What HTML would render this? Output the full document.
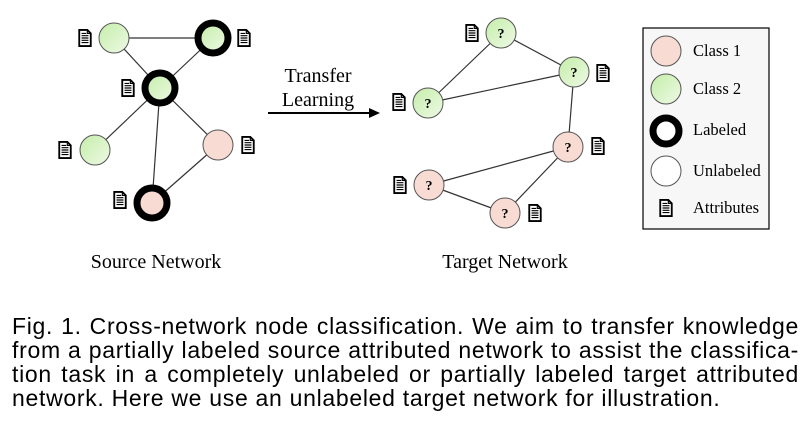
<!DOCTYPE html>
<html><head><meta charset="utf-8"><style>
body{margin:0;width:809px;height:432px;background:#fff;overflow:hidden;position:relative}
svg{position:absolute;left:0;top:0}
.cap{position:absolute;left:12px;top:314px;width:787px;font-family:"Liberation Sans",sans-serif;font-size:23px;letter-spacing:0.7px;line-height:24px;color:#000}
.cap div{text-align:justify;text-align-last:justify;white-space:nowrap}
.cap div.last{text-align-last:left}
</style></head><body>
<svg width="809" height="432" viewBox="0 0 809 432" font-family="Liberation Serif, serif">
<defs>
<linearGradient id="g" x1="0" y1="0" x2="1" y2="1"><stop offset="0" stop-color="#c4eea8"/><stop offset="1" stop-color="#eef9e6"/></linearGradient>
<g id="doc" transform="scale(1.15)"><path d="M-5,-7 H2 L5,-4 V7 H-5 Z" fill="#fff" stroke="#000" stroke-width="1.6"/><path d="M2,-7 V-4 H5" fill="none" stroke="#000" stroke-width="1"/><path d="M-3,-2H3M-3,0H3M-3,2H3M-3,4H3M-3,-4H1" stroke="#000" stroke-width="1"/></g>
</defs>
<g stroke="#333" stroke-width="1.2">
<line x1="114" y1="38" x2="213" y2="38"/><line x1="114" y1="38" x2="160" y2="88"/><line x1="213" y1="38" x2="160" y2="88"/>
<line x1="160" y1="88" x2="95" y2="150"/><line x1="160" y1="88" x2="218" y2="145"/><line x1="160" y1="88" x2="152" y2="203"/><line x1="218" y1="145" x2="152" y2="203"/>
<line x1="501" y1="33" x2="428" y2="103"/><line x1="501" y1="33" x2="574" y2="72"/><line x1="428" y1="103" x2="574" y2="72"/><line x1="574" y1="72" x2="568" y2="147"/>
<line x1="568" y1="147" x2="429" y2="185"/><line x1="568" y1="147" x2="505" y2="213"/><line x1="429" y1="185" x2="505" y2="213"/>
</g>
<g stroke="#555" stroke-width="1">
<circle cx="114" cy="38" r="15" fill="url(#g)"/><circle cx="95" cy="150" r="15" fill="url(#g)"/><circle cx="218" cy="145" r="15" fill="#f8dcd4"/>
</g>
<g stroke="#000" stroke-width="7">
<circle cx="213" cy="38" r="15" fill="url(#g)"/><circle cx="160" cy="88" r="15" fill="url(#g)"/><circle cx="152" cy="203" r="15" fill="#f8dcd4"/>
</g>
<g stroke="#555" stroke-width="1">
<circle cx="501" cy="33" r="15" fill="url(#g)"/><circle cx="574" cy="72" r="15" fill="url(#g)"/><circle cx="428" cy="103" r="15" fill="url(#g)"/>
<circle cx="568" cy="147" r="15" fill="#f8dcd4"/><circle cx="429" cy="185" r="15" fill="#f8dcd4"/><circle cx="505" cy="213" r="15" fill="#f8dcd4"/>
</g>
<g font-size="14" font-weight="bold" text-anchor="middle">
<text x="501" y="38">?</text><text x="574" y="77">?</text><text x="428" y="108">?</text><text x="568" y="152">?</text><text x="429" y="190">?</text><text x="505" y="218">?</text>
</g>
<use href="#doc" x="85" y="38"/><use href="#doc" x="244" y="38"/><use href="#doc" x="128" y="88"/><use href="#doc" x="65" y="150"/><use href="#doc" x="248" y="145"/><use href="#doc" x="120" y="200"/>
<use href="#doc" x="472" y="33"/><use href="#doc" x="603" y="73"/><use href="#doc" x="399" y="102"/><use href="#doc" x="598" y="146"/><use href="#doc" x="400" y="185"/><use href="#doc" x="535" y="213"/>
<line x1="268" y1="113" x2="372" y2="113" stroke="#000" stroke-width="2"/><path d="M380,113 L369,108 L369,118 Z" fill="#000"/>
<g font-size="20" text-anchor="middle"><text x="318" y="82">Transfer</text><text x="318" y="106">Learning</text></g>
<g font-size="20" text-anchor="middle"><text x="156" y="268">Source Network</text><text x="505" y="268">Target Network</text></g>
<rect x="643" y="28" width="126" height="201" fill="#f7f7f7" stroke="#000" stroke-width="1.2"/>
<circle cx="666" cy="51" r="15" fill="#f8dcd4" stroke="#555"/>
<circle cx="666" cy="89" r="15" fill="url(#g)" stroke="#555"/>
<circle cx="666" cy="131" r="13" fill="#fff" stroke="#000" stroke-width="7"/>
<circle cx="666" cy="171" r="15" fill="#fff" stroke="#555"/>
<use href="#doc" x="666" y="208"/>
<g font-size="16.5"><text x="693" y="56">Class 1</text><text x="693" y="94">Class 2</text><text x="693" y="135">Labeled</text><text x="693" y="176">Unlabeled</text><text x="693" y="213">Attributes</text></g>
</svg>
<div class="cap">
<div>Fig. 1. Cross-network node classification. We aim to transfer knowledge</div>
<div>from a partially labeled source attributed network to assist the classifica-</div>
<div>tion task in a completely unlabeled or partially labeled target attributed</div>
<div class="last">network. Here we use an unlabeled target network for illustration.</div>
</div>
</body></html>
